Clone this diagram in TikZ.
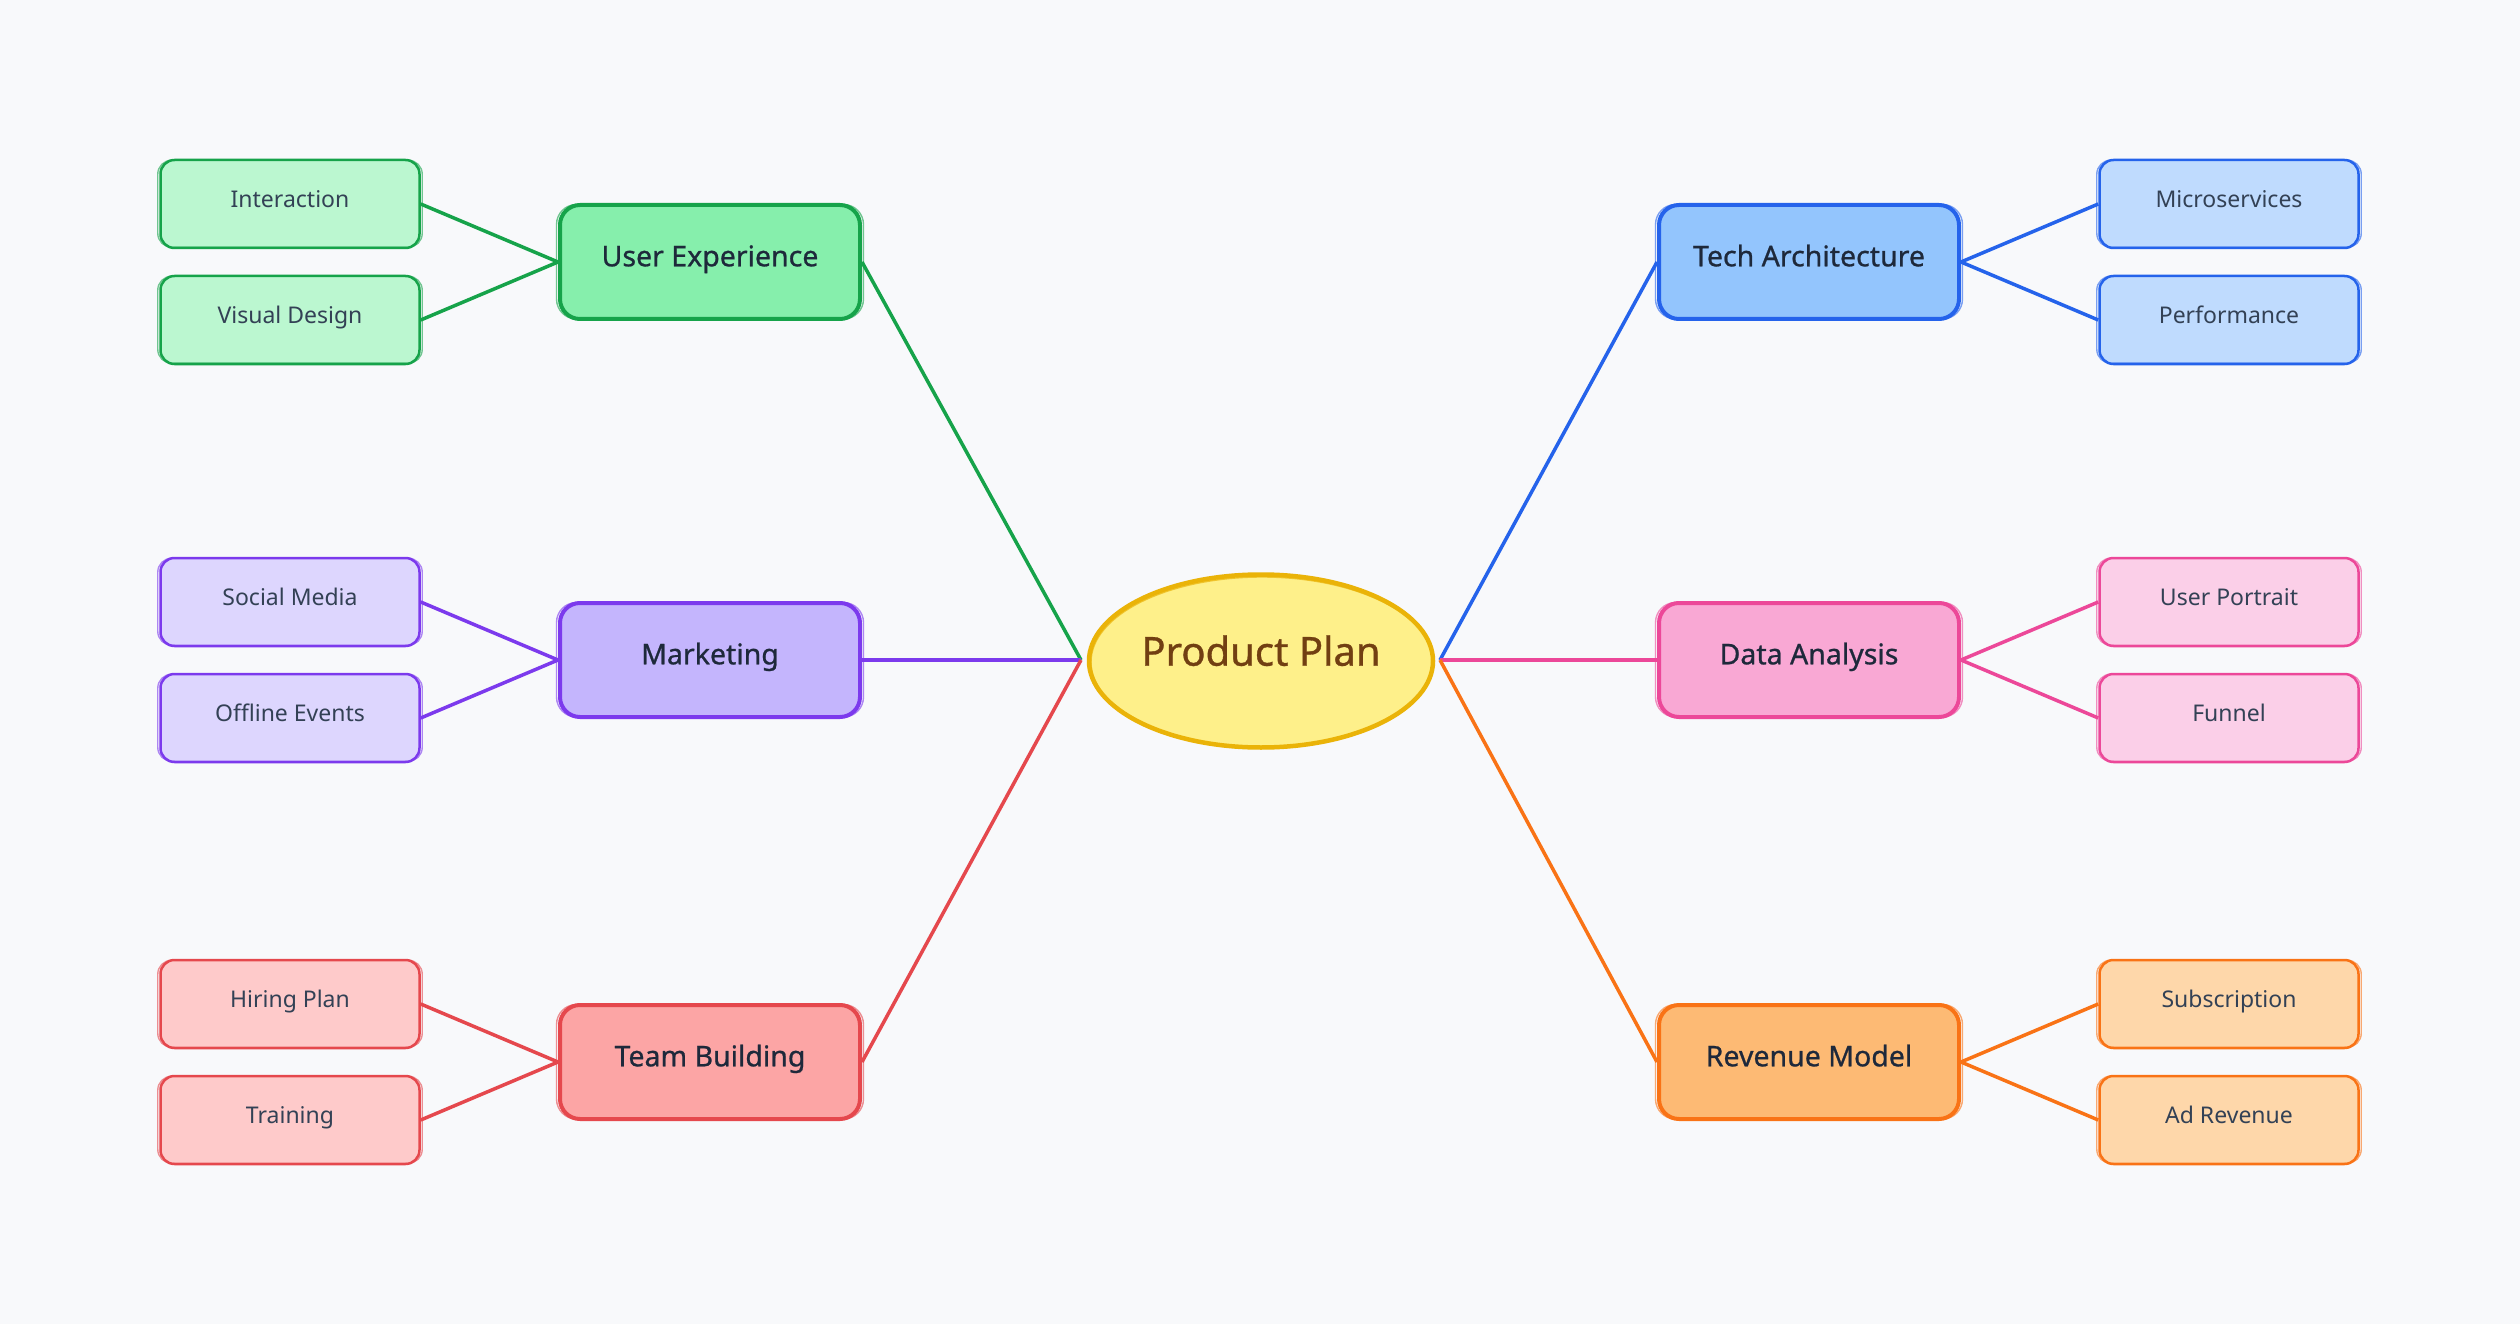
\documentclass[tikz,border=0pt]{standalone}
\usepackage{fontspec}
\setmainfont{Noto Sans}
\newfontfamily\medfont[FakeBold=0.8]{Noto Sans}
\usetikzlibrary{shapes.geometric}
\definecolor{bg}{HTML}{F8F9FB}
\definecolor{txtA}{HTML}{1E293B}
\definecolor{txtB}{HTML}{334155}
\definecolor{gS}{HTML}{16A34A}\definecolor{gB}{HTML}{86EFAC}\definecolor{gL}{HTML}{BBF7D0}
\definecolor{pS}{HTML}{7C3AED}\definecolor{pB}{HTML}{C4B5FD}\definecolor{pL}{HTML}{DDD6FE}
\definecolor{rS}{HTML}{E5484D}\definecolor{rB}{HTML}{FCA5A5}\definecolor{rL}{HTML}{FECACA}
\definecolor{bS}{HTML}{2563EB}\definecolor{bB}{HTML}{93C5FD}\definecolor{bL}{HTML}{BFDBFE}
\definecolor{kS}{HTML}{EC4899}\definecolor{kB}{HTML}{F9A8D4}\definecolor{kL}{HTML}{FBCFE8}
\definecolor{oS}{HTML}{F97316}\definecolor{oB}{HTML}{FDBA74}\definecolor{oL}{HTML}{FED7AA}
\definecolor{yS}{HTML}{EAB308}\definecolor{yB}{HTML}{FEF08A}\definecolor{yT}{HTML}{713F12}
\tikzset{
  branchbox/.style={draw, rounded corners=20pt, line width=4pt, minimum width=300pt, minimum height=114pt, text height=1.08em, text depth=0.22em, font=\medfont\fontsize{28.5}{32}\selectfont, text=txtA},
  leafbox/.style={draw, rounded corners=14pt, line width=2.5pt, minimum width=259pt, minimum height=88pt, text height=0.96em, text depth=0.22em, font=\fontsize{23}{28}\selectfont, text=txtB},
  link/.style={line width=3.5pt},
  rootnode/.style={ellipse, draw=yS, fill=yB, line width=4.5pt, minimum width=344pt, minimum height=173pt, inner sep=0pt, text height=1.14em, text depth=0.2em, font=\medfont\fontsize{40}{46}\selectfont, text=yT}
}
\newcommand\sketchbox[3]{\draw[#2, line width=1.4pt, rounded corners=#3, opacity=0.6] ([shift={(-1.5,1.5)}]#1.north west) rectangle ([shift={(1.5,-2)}]#1.south east);}
\begin{document}
\begin{tikzpicture}[x=1pt,y=-1pt]
\fill[bg] (0,0) rectangle (2520,1324);
\useasboundingbox (0,0) rectangle (2520,1324);
% root
\node[rootnode] (root) at (1261,661) {Product Plan};
\draw[yS, line width=1.4pt, opacity=0.7] (1262,662) ellipse [x radius=171pt, y radius=85pt];
\coordinate (cl) at (1081,660);
\coordinate (cr) at (1440,660);
% branches
\node[branchbox, draw=gS, fill=gB] (ux) at (710,262) {User Experience};
\node[branchbox, draw=pS, fill=pB] (mk) at (710,660) {Marketing};
\node[branchbox, draw=rS, fill=rB] (tb) at (710,1062) {Team Building};
\node[branchbox, draw=bS, fill=bB] (ta) at (1809,262) {Tech Architecture};
\node[branchbox, draw=kS, fill=kB] (da) at (1809,660) {Data Analysis};
\node[branchbox, draw=oS, fill=oB] (rm) at (1809,1062) {Revenue Model};
% leaves
\node[leafbox, draw=gS, fill=gL] (l1) at (290,204) {Interaction};
\node[leafbox, draw=gS, fill=gL] (l2) at (290,320) {Visual Design};
\node[leafbox, draw=pS, fill=pL] (l3) at (290,602) {Social Media};
\node[leafbox, draw=pS, fill=pL] (l4) at (290,718) {Offline Events};
\node[leafbox, draw=rS, fill=rL] (l5) at (290,1004) {Hiring Plan};
\node[leafbox, draw=rS, fill=rL] (l6) at (290,1120) {Training};
\node[leafbox, draw=bS, fill=bL] (r1) at (2229,204) {Microservices};
\node[leafbox, draw=bS, fill=bL] (r2) at (2229,320) {Performance};
\node[leafbox, draw=kS, fill=kL] (r3) at (2229,602) {User Portrait};
\node[leafbox, draw=kS, fill=kL] (r4) at (2229,718) {Funnel};
\node[leafbox, draw=oS, fill=oL] (r5) at (2229,1004) {Subscription};
\node[leafbox, draw=oS, fill=oL] (r6) at (2229,1120) {Ad Revenue};
% sketch strokes
\sketchbox{ux}{gS}{20pt}\sketchbox{mk}{pS}{20pt}\sketchbox{tb}{rS}{20pt}
\sketchbox{ta}{bS}{20pt}\sketchbox{da}{kS}{20pt}\sketchbox{rm}{oS}{20pt}
\sketchbox{l1}{gS}{14pt}\sketchbox{l2}{gS}{14pt}\sketchbox{l3}{pS}{14pt}\sketchbox{l4}{pS}{14pt}
\sketchbox{l5}{rS}{14pt}\sketchbox{l6}{rS}{14pt}\sketchbox{r1}{bS}{14pt}\sketchbox{r2}{bS}{14pt}
\sketchbox{r3}{kS}{14pt}\sketchbox{r4}{kS}{14pt}\sketchbox{r5}{oS}{14pt}\sketchbox{r6}{oS}{14pt}
% connectors
\draw[link, gS] (cl) -- (ux.east);
\draw[link, pS] (cl) -- (mk.east);
\draw[link, rS] (cl) -- (tb.east);
\draw[link, bS] (cr) -- (ta.west);
\draw[link, kS] (cr) -- (da.west);
\draw[link, oS] (cr) -- (rm.west);
\draw[link, gS] (l1.east) -- (ux.west);
\draw[link, gS] (l2.east) -- (ux.west);
\draw[link, pS] (l3.east) -- (mk.west);
\draw[link, pS] (l4.east) -- (mk.west);
\draw[link, rS] (l5.east) -- (tb.west);
\draw[link, rS] (l6.east) -- (tb.west);
\draw[link, bS] (r1.west) -- (ta.east);
\draw[link, bS] (r2.west) -- (ta.east);
\draw[link, kS] (r3.west) -- (da.east);
\draw[link, kS] (r4.west) -- (da.east);
\draw[link, oS] (r5.west) -- (rm.east);
\draw[link, oS] (r6.west) -- (rm.east);
\end{tikzpicture}
\end{document}
